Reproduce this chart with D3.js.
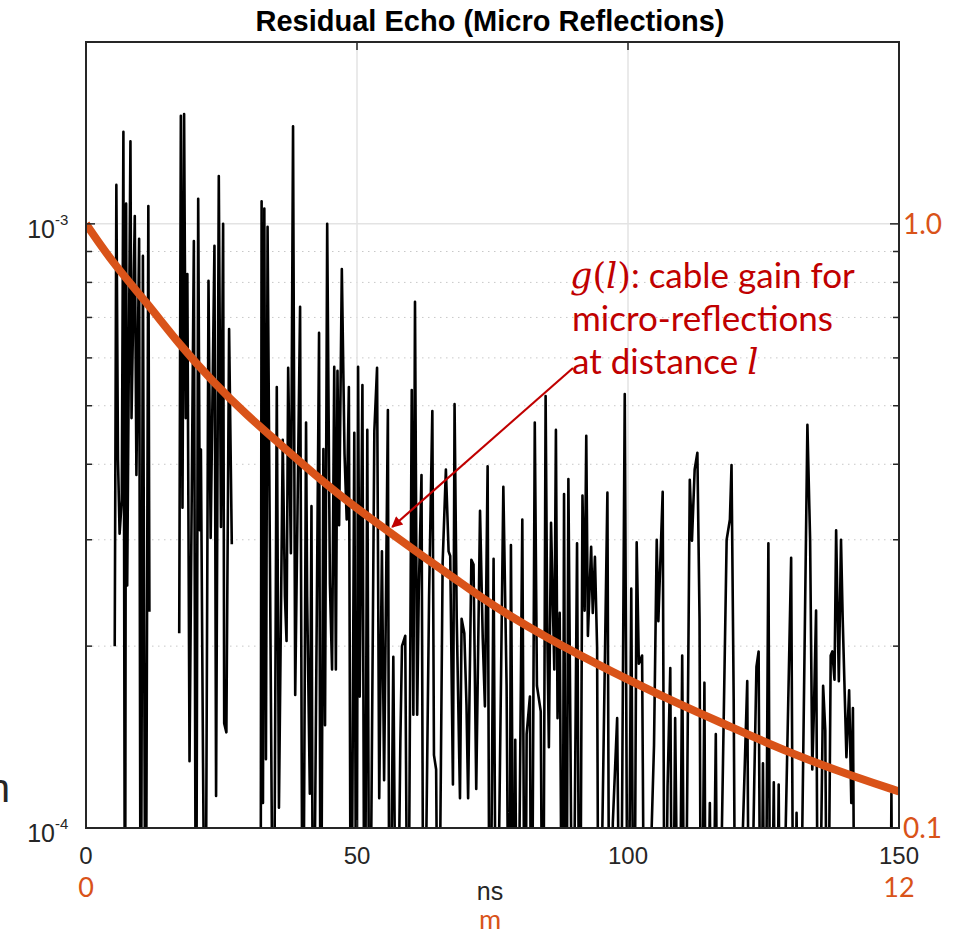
<!DOCTYPE html>
<html><head><meta charset="utf-8">
<script src="https://cdn.jsdelivr.net/npm/d3@7"></script>
<style>body{margin:0;background:#fff}svg{display:block}</style>
</head><body>
<svg id="c" width="958" height="937"></svg>
<script>
// ---------- data ----------
const BOT = 4e-5; // samples below displayed range (drawn off the bottom)
const echoT = [
 5.3,5.6,5.9,6.2,6.6,6.9,7.2,7.4,7.6,8.2,8.4,9.0,9.3,9.8,10.1,10.5,11.0,11.5,11.7,12.2,
 17.2,17.5,17.8,18.1,18.4,18.7,19.1,19.9,20.3,20.7,21.0,21.2,21.6,22.0,22.6,23.0,23.7,24.0,24.5,24.9,25.3,25.5,25.9,26.4,26.9,27.2,
 32.2,32.4,32.65,32.9,33.2,33.5,34.6,35.2,35.6,36.3,36.7,37.0,37.3,37.8,38.2,38.6,39.5,40.0,40.6,40.8,41.3,41.6,41.9,43.0,43.3,43.8,44.1,44.5,45.0,45.4,45.8,46.1,46.4,46.7,47.2,47.7,48.1,48.5,48.9,49.5,49.9,
 50.2,50.5,51.0,51.4,51.9,52.3,53.2,53.7,54.1,54.6,55.0,55.7,56.0,56.7,57.3,58.0,58.3,58.9,59.4,60.1,60.4,60.7,61.1,61.4,61.9,62.3,63.3,63.9,64.2,64.6,65.0,65.8,66.4,66.9,67.2,67.7,68.0,68.4,69.0,69.3,69.8,
 70.2,70.5,71.1,71.5,72.0,72.7,73.2,73.6,74.1,74.5,75.2,75.7,77.0,77.6,78.1,78.4,79.0,79.2,79.6,80.5,81.0,81.3,81.9,82.2,82.8,83.2,83.9,84.3,84.8,85.1,85.4,85.8,86.4,86.7,87.0,87.4,87.9,88.2,88.6,89.0,89.4,89.8,
 90.6,91.1,91.6,92.0,92.3,92.6,93.2,93.5,93.9,94.3,94.6,96.2,96.6,97.2,98.0,98.6,99.4,100.0,100.6,101.1,101.6,102.0,102.6,103.1,104.8,105.3,105.6,106.4,106.8,107.3,107.8,108.2,108.7,109.4,110.0,110.5,
 111.4,111.8,112.3,112.8,113.2,113.5,114.1,114.4,115.1,115.5,116.2,116.6,118.2,118.8,119.1,119.5,119.9,122.0,122.4,123.3,123.7,124.1,124.5,124.9,125.3,125.9,126.3,126.9,127.3,127.8,128.2,
 130.1,130.6,131.1,131.6,133.1,133.6,134.0,134.3,134.7,135.1,136.0,136.4,136.8,137.4,137.7,138.1,138.4,138.9,139.3,139.6,140.3,140.8,141.2,141.5,141.9,142.3,
 148.3,148.6,148.9,149.2
];
const echoV = [
 2.0e-4,1.16e-3,4.08e-4,3.07e-4,3.49e-4,1.42e-3,BOT,1.08e-3,2.52e-4,1.37e-3,4.77e-4,1.03e-3,3.84e-4,9.45e-4,BOT,8.85e-4,BOT,1.07e-3,2.28e-4,null,
 2.1e-4,1.51e-3,3.39e-4,1.52e-3,4.77e-4,8.26e-4,1.29e-4,9.37e-4,BOT,1.10e-3,3.11e-4,4.23e-4,1.26e-4,BOT,8.05e-4,3.02e-4,9.2e-4,1.13e-4,1.20e-3,3.15e-4,1.0e-3,1.49e-4,1.44e-4,6.70e-4,2.95e-4,null,
 BOT,1.09e-3,1.1e-4,1.06e-3,1.3e-4,9.89e-4,BOT,5.37e-4,1.08e-4,4.39e-4,2.42e-4,2.04e-4,5.78e-4,2.85e-4,1.45e-3,1.66e-4,7.29e-4,BOT,4.69e-4,2.42e-4,1.14e-4,3.41e-4,BOT,6.60e-4,BOT,4.24e-4,1.48e-4,1.0e-3,2.54e-4,1.83e-4,5.80e-4,1.83e-4,5.71e-4,3.17e-4,8.42e-4,4.16e-4,3.24e-4,5.37e-4,BOT,4.51e-4,BOT,
 5.80e-4,1.65e-4,5.41e-4,BOT,4.56e-4,BOT,4.54e-4,5.78e-4,1.12e-4,2.87e-4,1.20e-4,4.92e-4,BOT,1.92e-4,BOT,1.39e-4,2.0e-4,2.08e-4,BOT,5.31e-4,1.54e-4,7.43e-4,1.54e-4,2.47e-4,3.84e-4,BOT,2.42e-4,4.90e-4,1.32e-4,1.25e-4,BOT,2.75e-4,3.92e-4,2.87e-4,2.82e-4,1.18e-4,5.03e-4,2.22e-4,1.12e-4,2.22e-4,2.10e-4,
 1.60e-4,1.12e-4,2.78e-4,2.73e-4,1.16e-4,3.35e-4,2.06e-4,1.59e-4,3.97e-4,BOT,2.79e-4,BOT,3.67e-4,1.72e-4,BOT,2.94e-4,BOT,1.40e-4,BOT,3.24e-4,BOT,1.43e-4,1.65e-4,BOT,4.69e-4,1.72e-4,1.56e-4,BOT,5.19e-4,2.14e-4,1.36e-4,3.20e-4,1.83e-4,4.56e-4,1.52e-4,2.27e-4,BOT,3.57e-4,BOT,3.78e-4,1.34e-4,BOT,
 2.96e-4,BOT,3.55e-4,2.29e-4,4.46e-4,2.08e-4,2.92e-4,2.27e-4,2.81e-4,1.99e-4,BOT,3.59e-4,BOT,1.02e-4,1.52e-4,BOT,5.23e-4,BOT,2.49e-4,BOT,2.97e-4,1.87e-4,1.93e-4,BOT,1.37e-4,3.0e-4,2.20e-4,3.60e-4,BOT,1.17e-4,1.84e-4,BOT,1.52e-4,BOT,1.93e-4,BOT,
 3.77e-4,2.99e-4,3.92e-4,4.18e-4,2.21e-4,BOT,1.74e-4,BOT,1.10e-4,BOT,1.43e-4,BOT,3.0e-4,3.24e-4,3.99e-4,1.63e-4,BOT,1.75e-4,BOT,1.20e-4,1.85e-4,1.96e-4,BOT,1.28e-4,BOT,2.96e-4,BOT,1.19e-4,BOT,1.18e-4,BOT,
 2.80e-4,BOT,1.06e-4,BOT,4.65e-4,3.0e-4,1.25e-4,1.56e-4,2.29e-4,BOT,1.72e-4,1.45e-4,BOT,1.93e-4,1.96e-4,1.76e-4,3.11e-4,1.75e-4,3.0e-4,2.24e-4,1.31e-4,1.69e-4,1.10e-4,1.58e-4,BOT,null,
 BOT,1.14e-4,BOT,null
];
const gainT = [0,5.0,11.25,17.3,23.4,29.7,35.8,40.0,46.3,54.2,61.6,68.5,74.5,85.1,97.2,109.6,117.5,129.9,142.3,150];
const gainV = [1.0,0.86,0.74,0.63,0.548,0.482,0.432,0.400,0.358,0.317,0.284,0.257,0.235,0.206,0.181,0.160,0.149,0.133,0.121,0.115];

const xTicks = [0,50,100,150];
const xTickLabels = ["0","50","100","150"];
const mTickNs = [0,150];
const mTickLabels = ["0","12"];
const yMajor = [1e-4,1e-3];
const yExpLabels = ["-4","-3"];
const rMajor = [0.1,1.0];
const rTickLabels = ["0.1","1.0"];
const arrowTip = {t:56.5, g:0.315};

// ---------- layout ----------
const W=958,H=937, L=86, R=899, T=42, B=828;
const svg=d3.select("#c");
const x=d3.scaleLinear().domain([0,150]).range([L,R]);
const y=d3.scaleLog().domain([1e-4,2e-3]).range([B,T]);
const yr=d3.scaleLog().domain([0.1,2.0]).range([B,T]);
const axisCol="#262626", orange="#D95319", red="#C00000";

// minor gridlines
const minor=[];
[1e-4,1e-3].forEach(d=>{for(let k=2;k<=9;k++){const v=d*k; if(v<2e-3) minor.push(v);} });
svg.append("g").selectAll("line").data(minor).join("line")
  .attr("x1",L).attr("x2",R).attr("y1",d=>y(d)).attr("y2",d=>y(d))
  .attr("stroke","#c8c8c8").attr("stroke-width",1).attr("stroke-dasharray","1.5,4.5");
// major gridlines
svg.append("g").selectAll("line").data([1e-3]).join("line")
  .attr("x1",L).attr("x2",R).attr("y1",d=>y(d)).attr("y2",d=>y(d))
  .attr("stroke","#e3e3e3").attr("stroke-width",1.5);
svg.append("g").selectAll("line").data([50,100]).join("line")
  .attr("x1",d=>x(d)).attr("x2",d=>x(d)).attr("y1",T).attr("y2",B)
  .attr("stroke","#e3e3e3").attr("stroke-width",1.5);

// clip
svg.append("defs").append("clipPath").attr("id","pc").append("rect")
  .attr("x",L).attr("y",T).attr("width",R-L).attr("height",B-T);

// echo line
const idx=d3.range(echoT.length);
const line=d3.line().defined(i=>echoV[i]!=null).x(i=>x(echoT[i])).y(i=>y(echoV[i]));
svg.append("path").attr("clip-path","url(#pc)").attr("d",line(idx))
  .attr("fill","none").attr("stroke","#000").attr("stroke-width",2.6).attr("stroke-linejoin","round");

// gain curve
const gi=d3.range(gainT.length);
const gline=d3.line().curve(d3.curveBasis).x(i=>x(gainT[i])).y(i=>yr(gainV[i]));
svg.append("path").attr("clip-path","url(#pc)").attr("d",gline(gi))
  .attr("fill","none").attr("stroke",orange).attr("stroke-width",8);

// box
svg.append("rect").attr("x",L).attr("y",T).attr("width",R-L).attr("height",B-T)
  .attr("fill","none").attr("stroke",axisCol).attr("stroke-width",2);

// ticks
const tk=svg.append("g").attr("stroke",axisCol).attr("stroke-width",1.5);
xTicks.forEach(d=>{
  tk.append("line").attr("x1",x(d)).attr("x2",x(d)).attr("y1",B).attr("y2",B-8);
  tk.append("line").attr("x1",x(d)).attr("x2",x(d)).attr("y1",T).attr("y2",T+8);
});
yMajor.concat([2e-3]).forEach(d=>{
  tk.append("line").attr("x1",L).attr("x2",L+9).attr("y1",y(d)).attr("y2",y(d));
});
minor.forEach(d=>{
  tk.append("line").attr("x1",L).attr("x2",L+6).attr("y1",y(d)).attr("y2",y(d));
});
rMajor.forEach(d=>{
  tk.append("line").attr("x1",R).attr("x2",R-9).attr("y1",yr(d)).attr("y2",yr(d));
});
minor.forEach(d=>{
  tk.append("line").attr("x1",R).attr("x2",R-6).attr("y1",y(d)).attr("y2",y(d));
});

// tick labels
const sans="'Liberation Sans', Arial, sans-serif";
const cal="Lato, 'Open Sans', sans-serif";
const serif="'DejaVu Serif', 'Liberation Serif', serif";
svg.append("g").selectAll("text").data(xTicks).join("text")
  .attr("x",d=>x(d)).attr("y",B+36).attr("text-anchor","middle")
  .attr("font-family",sans).attr("font-size",24).attr("fill",axisCol)
  .text((d,i)=>xTickLabels[i]);
svg.append("g").selectAll("text").data(mTickNs).join("text")
  .attr("x",d=>x(d)).attr("y",B+69).attr("text-anchor","middle")
  .attr("font-family",cal).attr("font-size",27).attr("fill",orange)
  .text((d,i)=>mTickLabels[i]);
yMajor.forEach((d,i)=>{
  svg.append("text").attr("x",55).attr("y",y(d)+14).attr("text-anchor","end")
    .attr("font-family",sans).attr("font-size",25).attr("fill",axisCol).text("10");
  svg.append("text").attr("x",55).attr("y",y(d)+1).attr("text-anchor","start")
    .attr("font-family",sans).attr("font-size",15).attr("fill",axisCol).text(yExpLabels[i]);
});
rMajor.forEach((d,i)=>{
  svg.append("text").attr("x",903).attr("y",yr(d)+10).attr("text-anchor","start")
    .attr("font-family",cal).attr("font-size",28).attr("fill",orange).text(rTickLabels[i]);
});

// axis labels
svg.append("text").attr("x",490).attr("y",900).attr("text-anchor","middle")
  .attr("font-family",sans).attr("font-size",25).attr("fill",axisCol).text("ns");
svg.append("text").attr("x",490).attr("y",929).attr("text-anchor","middle")
  .attr("font-family",cal).attr("font-size",27).attr("fill",orange).text("m");
svg.append("text").attr("x",10).attr("y",802).attr("text-anchor","end")
  .attr("font-family",sans).attr("font-size",40).attr("fill",axisCol).text("n");

// title
svg.append("text").attr("x",490).attr("y",31).attr("text-anchor","middle")
  .attr("font-family",sans).attr("font-weight","bold").attr("font-size",29).attr("fill","#000")
  .text("Residual Echo (Micro Reflections)");

// annotation
svg.append("defs").append("marker").attr("id","ah").attr("viewBox","0 0 10 10")
  .attr("refX",9).attr("refY",5).attr("markerWidth",16).attr("markerHeight",11)
  .attr("orient","auto").attr("markerUnits","userSpaceOnUse")
  .append("path").attr("d","M0,0 L10,5 L0,10 z").attr("fill",red);
svg.append("line").attr("x1",573).attr("y1",368)
  .attr("x2",x(arrowTip.t)).attr("y2",yr(arrowTip.g))
  .attr("stroke",red).attr("stroke-width",2.2).attr("marker-end","url(#ah)");
const ann=svg.append("g").attr("font-family",cal).attr("font-size",35).attr("fill",red);
const l1=ann.append("text").attr("x",570).attr("y",288);
l1.append("tspan").attr("font-family",serif).attr("font-style","italic").text("g");
l1.append("tspan").attr("font-family",serif).text("(");
l1.append("tspan").attr("font-family",serif).attr("font-style","italic").text("l");
l1.append("tspan").attr("font-family",serif).text(")");
l1.append("tspan").text(": cable gain for");
ann.append("text").attr("x",572).attr("y",331).text("micro-reflections");
const l3=ann.append("text").attr("x",572).attr("y",374);
l3.append("tspan").text("at distance ");
l3.append("tspan").attr("font-family",serif).attr("font-style","italic").text("l");
</script>
</body></html>
